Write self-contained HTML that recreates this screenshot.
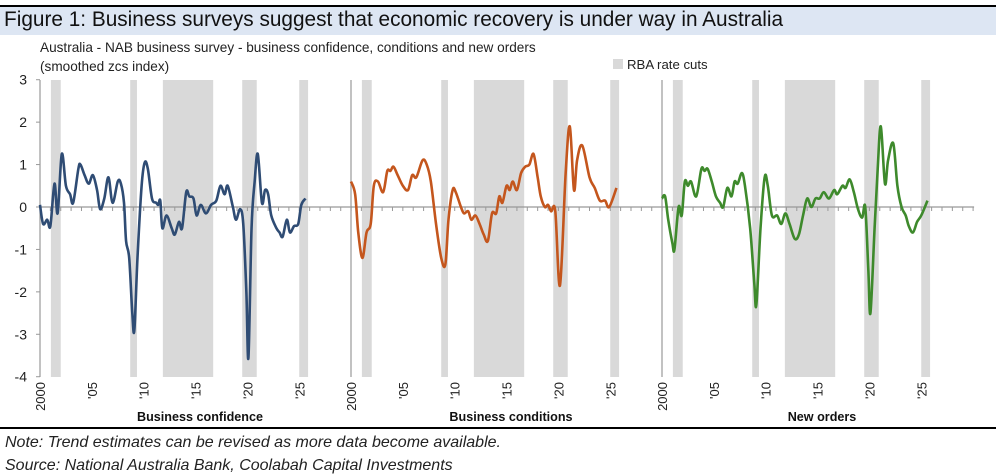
<!DOCTYPE html>
<html><head><meta charset="utf-8"><style>
body{margin:0;width:996px;height:475px;background:#fff;font-family:"Liberation Sans",sans-serif;overflow:hidden;position:relative}
</style></head><body>
<div style="position:absolute;left:0;top:5px;width:996px;height:2px;background:#000"></div>
<div style="position:absolute;left:0;top:7px;width:996px;height:28px;background:#dde6f3"></div>
<div style="position:absolute;left:4px;top:8px;font-size:20.8px;color:#111;white-space:nowrap">Figure 1: Business surveys suggest that economic recovery is under way in Australia</div>
<svg width="996" height="475" style="position:absolute;left:0;top:0" id="svg">
<text x="40" y="52" font-size="13.6" fill="#222">Australia - NAB business survey - business confidence, conditions and new orders</text>
<text x="40" y="71" font-size="13.6" fill="#222">(smoothed zcs index)</text>
<rect x="613" y="59" width="10" height="10" fill="#d9d9d9"/>
<text x="627" y="69" font-size="13.2" fill="#222">RBA rate cuts</text>
<rect x="0" y="427" width="996" height="2" fill="#000"/>
<text x="5" y="447" font-size="16" font-style="italic" fill="#222">Note: Trend estimates can be revised as more data become available.</text>
<text x="5" y="470" font-size="16" font-style="italic" fill="#222">Source: National Australia Bank, Coolabah Capital Investments</text>
</svg>
<script>
const yTicks=[3,2,1,0,-1,-2,-3,-4];
const xTickLabels=["2000","'05","'10","'15","'20","'25"];
const xTickYears=[2000,2005,2010,2015,2020,2025];
const cutStarts=[2001.05,2008.7,2011.85,2019.5,2025.0];
const cutEnds=[2002.0,2009.35,2016.7,2020.9,2025.85];
const panelNames=["Business confidence","Business conditions","New orders"];
const panelColors=["#2f4c74","#c4561d","#3e8a2c"];
const confT=[2000.0,2000.3,2000.7,2001.0,2001.4,2001.7,2002.1,2002.5,2002.9,2003.2,2003.7,2003.9,2004.3,2004.7,2005.1,2005.5,2005.8,2006.2,2006.6,2007.0,2007.5,2007.8,2008.1,2008.3,2008.6,2008.9,2009.1,2009.4,2009.8,2010.1,2010.4,2010.8,2011.2,2011.4,2011.6,2011.8,2012.2,2012.7,2013.0,2013.4,2013.7,2014.1,2014.4,2014.8,2015.1,2015.5,2016.0,2016.5,2017.0,2017.4,2017.8,2018.1,2018.6,2018.9,2019.3,2019.6,2019.9,2020.1,2020.4,2020.7,2021.0,2021.4,2021.7,2022.0,2022.3,2022.8,2023.1,2023.4,2023.8,2024.1,2024.5,2024.9,2025.2,2025.6];
const confV=[0.05,-0.4,-0.3,-0.45,0.55,-0.15,1.25,0.5,0.3,0.1,0.9,1.0,0.75,0.55,0.75,0.4,-0.05,0.2,0.7,0.1,0.6,0.55,0.1,-0.8,-1.2,-2.5,-2.9,-1.2,0.5,1.05,0.9,0.2,0.1,0.05,0.15,-0.5,-0.2,-0.5,-0.65,-0.35,-0.5,0.35,0.25,0.2,-0.2,0.05,-0.15,0.05,0.15,0.5,0.3,0.5,0.0,-0.3,-0.05,-0.4,-2.0,-3.55,-0.5,0.6,1.25,0.1,0.4,0.3,-0.2,-0.5,-0.6,-0.7,-0.3,-0.6,-0.45,-0.4,0.05,0.2];
const condT=[2000.0,2000.4,2000.7,2001.1,2001.5,2001.9,2002.2,2002.6,2003.1,2003.5,2003.8,2004.1,2004.5,2005.0,2005.5,2005.9,2006.3,2006.9,2007.3,2007.7,2008.2,2008.7,2009.1,2009.4,2009.8,2010.1,2010.6,2010.9,2011.3,2011.6,2012.0,2012.4,2012.8,2013.2,2013.6,2014.0,2014.3,2014.6,2015.0,2015.3,2015.6,2016.0,2016.4,2016.8,2017.2,2017.6,2018.0,2018.3,2018.7,2019.0,2019.3,2019.7,2020.15,2020.7,2021.1,2021.5,2021.8,2022.3,2023.0,2023.5,2024.0,2024.5,2024.9,2025.6];
const condV=[0.6,0.3,-0.6,-1.2,-0.6,-0.4,0.5,0.6,0.35,0.85,0.85,0.95,0.75,0.5,0.4,0.75,0.7,1.1,1.0,0.6,-0.4,-1.2,-1.35,-0.3,0.4,0.35,0.0,-0.15,-0.1,-0.3,-0.2,-0.4,-0.65,-0.8,-0.15,-0.15,0.25,0.1,0.5,0.4,0.6,0.4,0.8,0.95,1.0,1.25,0.7,0.25,0.0,0.05,-0.1,-0.1,-1.85,0.8,1.9,0.4,1.1,1.45,0.7,0.45,0.15,0.15,0.0,0.45];
const ordT=[2000.0,2000.3,2000.6,2001.0,2001.2,2001.6,2001.9,2002.2,2002.5,2002.8,2003.3,2003.8,2004.1,2004.4,2004.8,2005.2,2005.6,2005.9,2006.3,2006.7,2007.0,2007.3,2007.7,2008.0,2008.5,2008.9,2009.1,2009.5,2009.9,2010.2,2010.6,2011.1,2011.5,2011.9,2012.3,2012.8,2013.2,2013.6,2014.0,2014.4,2014.8,2015.2,2015.6,2016.1,2016.6,2016.9,2017.4,2017.7,2018.1,2018.5,2018.9,2019.3,2019.6,2019.9,2020.1,2020.5,2020.8,2021.1,2021.5,2021.8,2022.3,2022.7,2023.1,2023.5,2023.8,2024.2,2024.6,2025.0,2025.6];
const ordV=[0.2,0.25,-0.3,-0.85,-1.0,0.0,-0.2,0.6,0.5,0.6,0.25,0.9,0.85,0.9,0.6,0.25,0.1,0.0,0.45,0.25,0.6,0.55,0.8,0.5,-0.5,-1.8,-2.3,-0.5,0.7,0.5,-0.2,-0.2,-0.4,-0.15,-0.4,-0.75,-0.65,-0.2,0.2,0.0,0.2,0.2,0.35,0.2,0.4,0.3,0.5,0.45,0.65,0.35,-0.05,-0.25,0.0,-1.5,-2.5,-0.5,0.9,1.9,0.55,1.1,1.5,0.5,0.0,-0.2,-0.45,-0.6,-0.35,-0.2,0.15];
const series=[[confT,confV],[condT,condV],[ordT,ordV]];
const NS="http://www.w3.org/2000/svg",svg=document.getElementById('svg');
const panelX0=[40,351,662],PXY=10.37,yTop=80,yBot=377;
const yS=v=>207-(v)*(yBot-yTop)/7;
function mk(tag,attrs,parent){const e=document.createElementNS(NS,tag);for(const k in attrs)e.setAttribute(k,attrs[k]);(parent||svg).appendChild(e);return e;}
yTicks.forEach(v=>{
 const t=mk('text',{x:27,y:yS(v)+5,'font-size':14,'text-anchor':'end',fill:'#222'});t.textContent=v;
 
 
 const l=mk('line',{x1:36,x2:40,y1:yS(v),y2:yS(v),stroke:'#999'});
 
 
});
panelX0.forEach((x0,p)=>{
 const xS=t=>x0+(t-2000)*PXY;
 cutStarts.forEach((s,i)=>{
  const r=mk('rect',{x:xS(s),y:yTop,width:xS(cutEnds[i])-xS(s),height:yBot-yTop,fill:'#d9d9d9'});
  
  
 });
 const ax=mk('line',{x1:x0,x2:x0,y1:yTop,y2:yBot,stroke:'#999','stroke-width':1.2});
 
 
 const z=mk('line',{x1:x0,x2:x0+30*PXY+1,y1:yS(0),y2:yS(0),stroke:'#999','stroke-width':1.2});
 
 
 for(let y=2001;y<=2030;y++){const tk=mk('line',{x1:xS(y),x2:xS(y),y1:yS(0),y2:yS(0)+4,stroke:'#999'});
  
  }
 xTickYears.forEach((yr,i)=>{
  const t=mk('text',{'font-size':13,fill:'#222',transform:`translate(${xS(yr)+5},382) rotate(-90)`,'text-anchor':'end'});t.textContent=xTickLabels[i];
  
  
 });
 const nm=mk('text',{x:x0+160,y:421,'font-size':12.6,'font-weight':'bold','text-anchor':'middle',fill:'#111'});nm.textContent=panelNames[p];
 
 
 const [T,V]=series[p];
 const pts=T.map((t,i)=>[xS(t),yS(V[i])]);
 let d='M'+pts[0][0]+','+pts[0][1];
 for(let i=0;i<pts.length-1;i++){
  const p0=pts[Math.max(0,i-1)],p1=pts[i],p2=pts[i+1],p3=pts[Math.min(pts.length-1,i+2)];
  const c1=[p1[0]+(p2[0]-p0[0])/6,p1[1]+(p2[1]-p0[1])/6],c2=[p2[0]-(p3[0]-p1[0])/6,p2[1]-(p3[1]-p1[1])/6];
  d+=`C${c1[0]},${c1[1]} ${c2[0]},${c2[1]} ${p2[0]},${p2[1]}`;
 }
 const path=mk('path',{d:d,fill:'none',stroke:panelColors[p],'stroke-width':2.6,'stroke-linejoin':'round'});
 
 
});
</script>
</body></html>
